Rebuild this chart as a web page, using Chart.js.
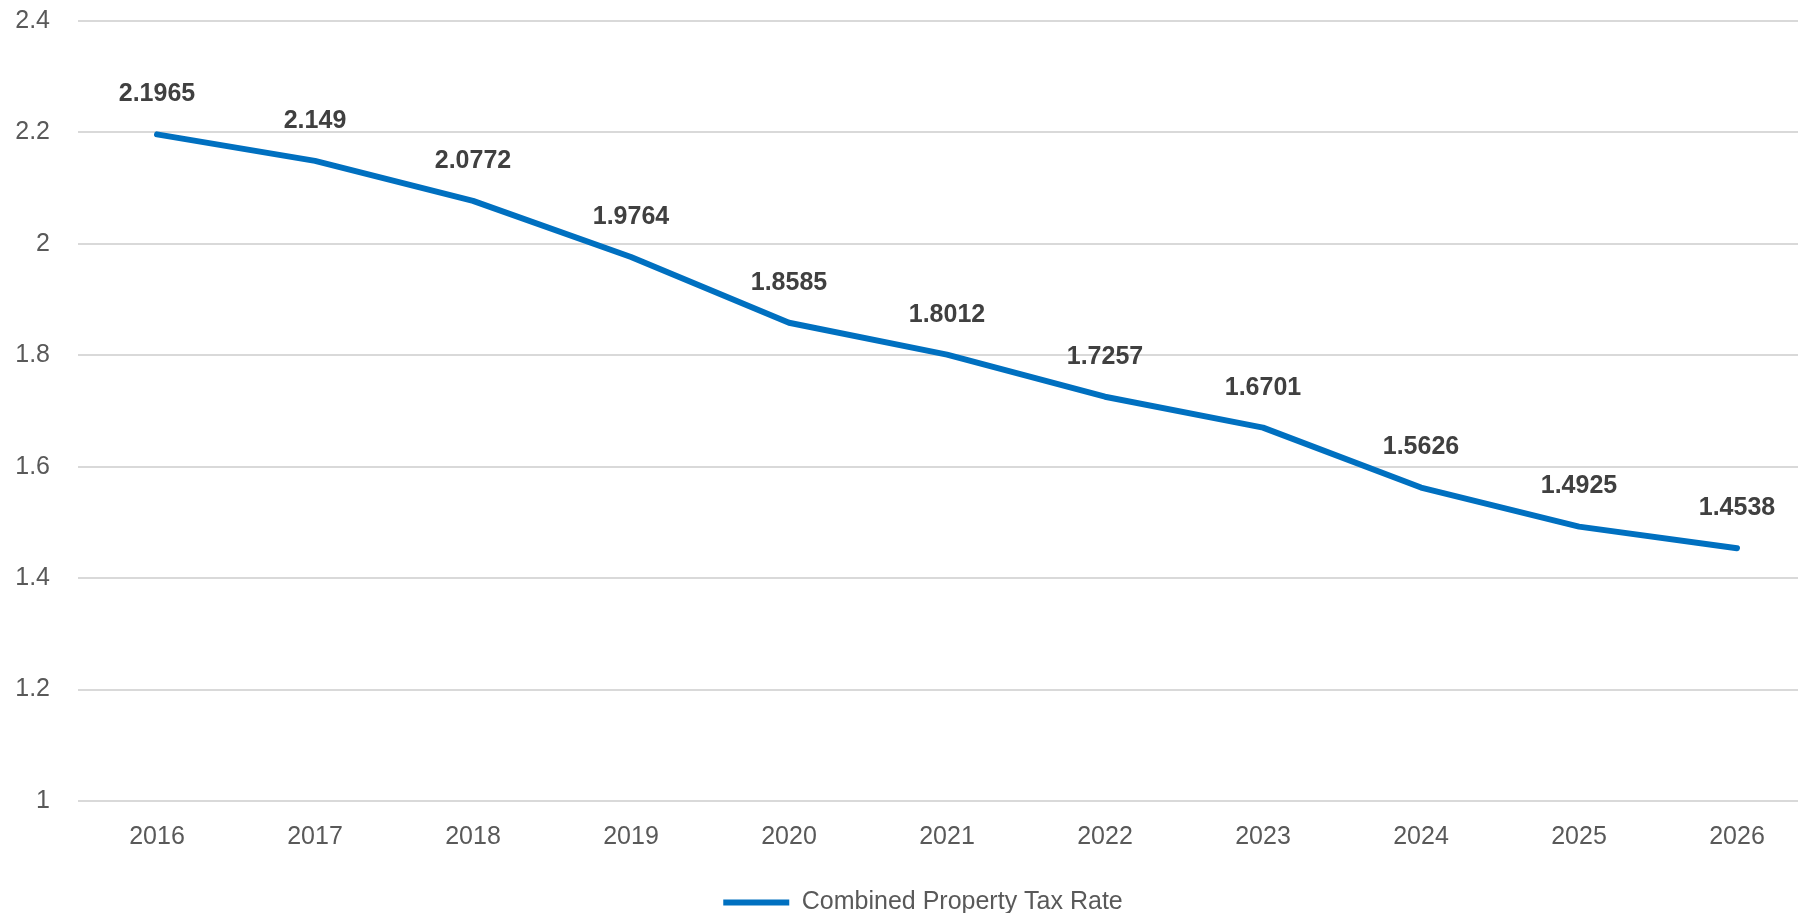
<!DOCTYPE html>
<html>
<head>
<meta charset="utf-8">
<script src="https://cdn.jsdelivr.net/npm/chart.js@4.4.1/dist/chart.umd.min.js"></script>
<style>
  html, body { margin: 0; padding: 0; background: #ffffff; overflow: hidden; }
  #wrap { width: 1846px; height: 925px; }
</style>
</head>
<body>
<div id="wrap"><canvas id="taxChart" width="1846" height="925"></canvas></div>
<script>
// Combined property tax rate by year
const years = ['2016', '2017', '2018', '2019', '2020', '2021', '2022', '2023', '2024', '2025', '2026'];
const taxRates = [2.1965, 2.149, 2.0772, 1.9764, 1.8585, 1.8012, 1.7257, 1.6701, 1.5626, 1.4925, 1.4538];
const yTicks = [1, 1.2, 1.4, 1.6, 1.8, 2, 2.2, 2.4];

const FONT = "'Liberation Sans', Arial, sans-serif";

// draws the value above each point
const valueLabels = {
  id: 'valueLabels',
  afterDatasetsDraw(chart) {
    const { ctx } = chart;
    const meta = chart.getDatasetMeta(0);
    ctx.save();
    ctx.font = `bold 25px ${FONT}`;
    ctx.fillStyle = '#404040';
    ctx.textAlign = 'center';
    ctx.textBaseline = 'middle';
    meta.data.forEach((pt, i) => {
      ctx.fillText(String(taxRates[i]), pt.x, pt.y - 40);
    });
    ctx.restore();
  },
};

new Chart(document.getElementById('taxChart'), {
  type: 'line',
  data: {
    labels: years,
    datasets: [{
      label: 'Combined Property Tax Rate',
      data: taxRates,
      borderColor: '#0070c0',
      backgroundColor: '#0070c0',
      borderWidth: 6,
      borderCapStyle: 'round',
      borderJoinStyle: 'round',
      pointRadius: 0,
      tension: 0,
    }],
  },
  options: {
    responsive: false,
    animation: false,
    layout: { padding: { top: 21, right: 0, left: 0, bottom: 0 } },
    scales: {
      x: {
        offset: true,
        grid: { display: false },
        border: { display: false },
        ticks: { color: '#595959', font: { family: FONT, size: 25 }, padding: 13 },
        afterFit: (axis) => { axis.height = 82; },
      },
      y: {
        min: 1,
        max: 2.4,
        afterBuildTicks: (axis) => { axis.ticks = yTicks.map(v => ({ value: v })); },
        afterFit: (axis) => {
          axis.width = 78;
          axis.paddingTop = 0;
          axis.paddingBottom = 0;
        },
        grid: { color: '#d9d9d9', lineWidth: 2, drawTicks: false },
        border: { display: false },
        ticks: {
          color: '#595959',
          font: { family: FONT, size: 25 },
          padding: 28,
          callback: (v) => String(v),
        },
      },
      // empty strip on the right so the plot stops short of the legend's span
      yRight: {
        type: 'linear',
        position: 'right',
        grid: { display: false },
        border: { display: false },
        ticks: { display: false },
        afterFit: (axis) => {
          axis.width = 30;
          axis.paddingTop = 0;
          axis.paddingBottom = 0;
        },
      },
    },
    plugins: {
      legend: {
        position: 'bottom',
        labels: {
          usePointStyle: true,
          pointStyle: 'line',
          pointStyleWidth: 66,
          color: '#595959',
          font: { family: FONT, size: 25 },
          padding: 7,
        },
      },
      tooltip: { enabled: false },
    },
  },
  plugins: [valueLabels],
});
</script>
</body>
</html>
